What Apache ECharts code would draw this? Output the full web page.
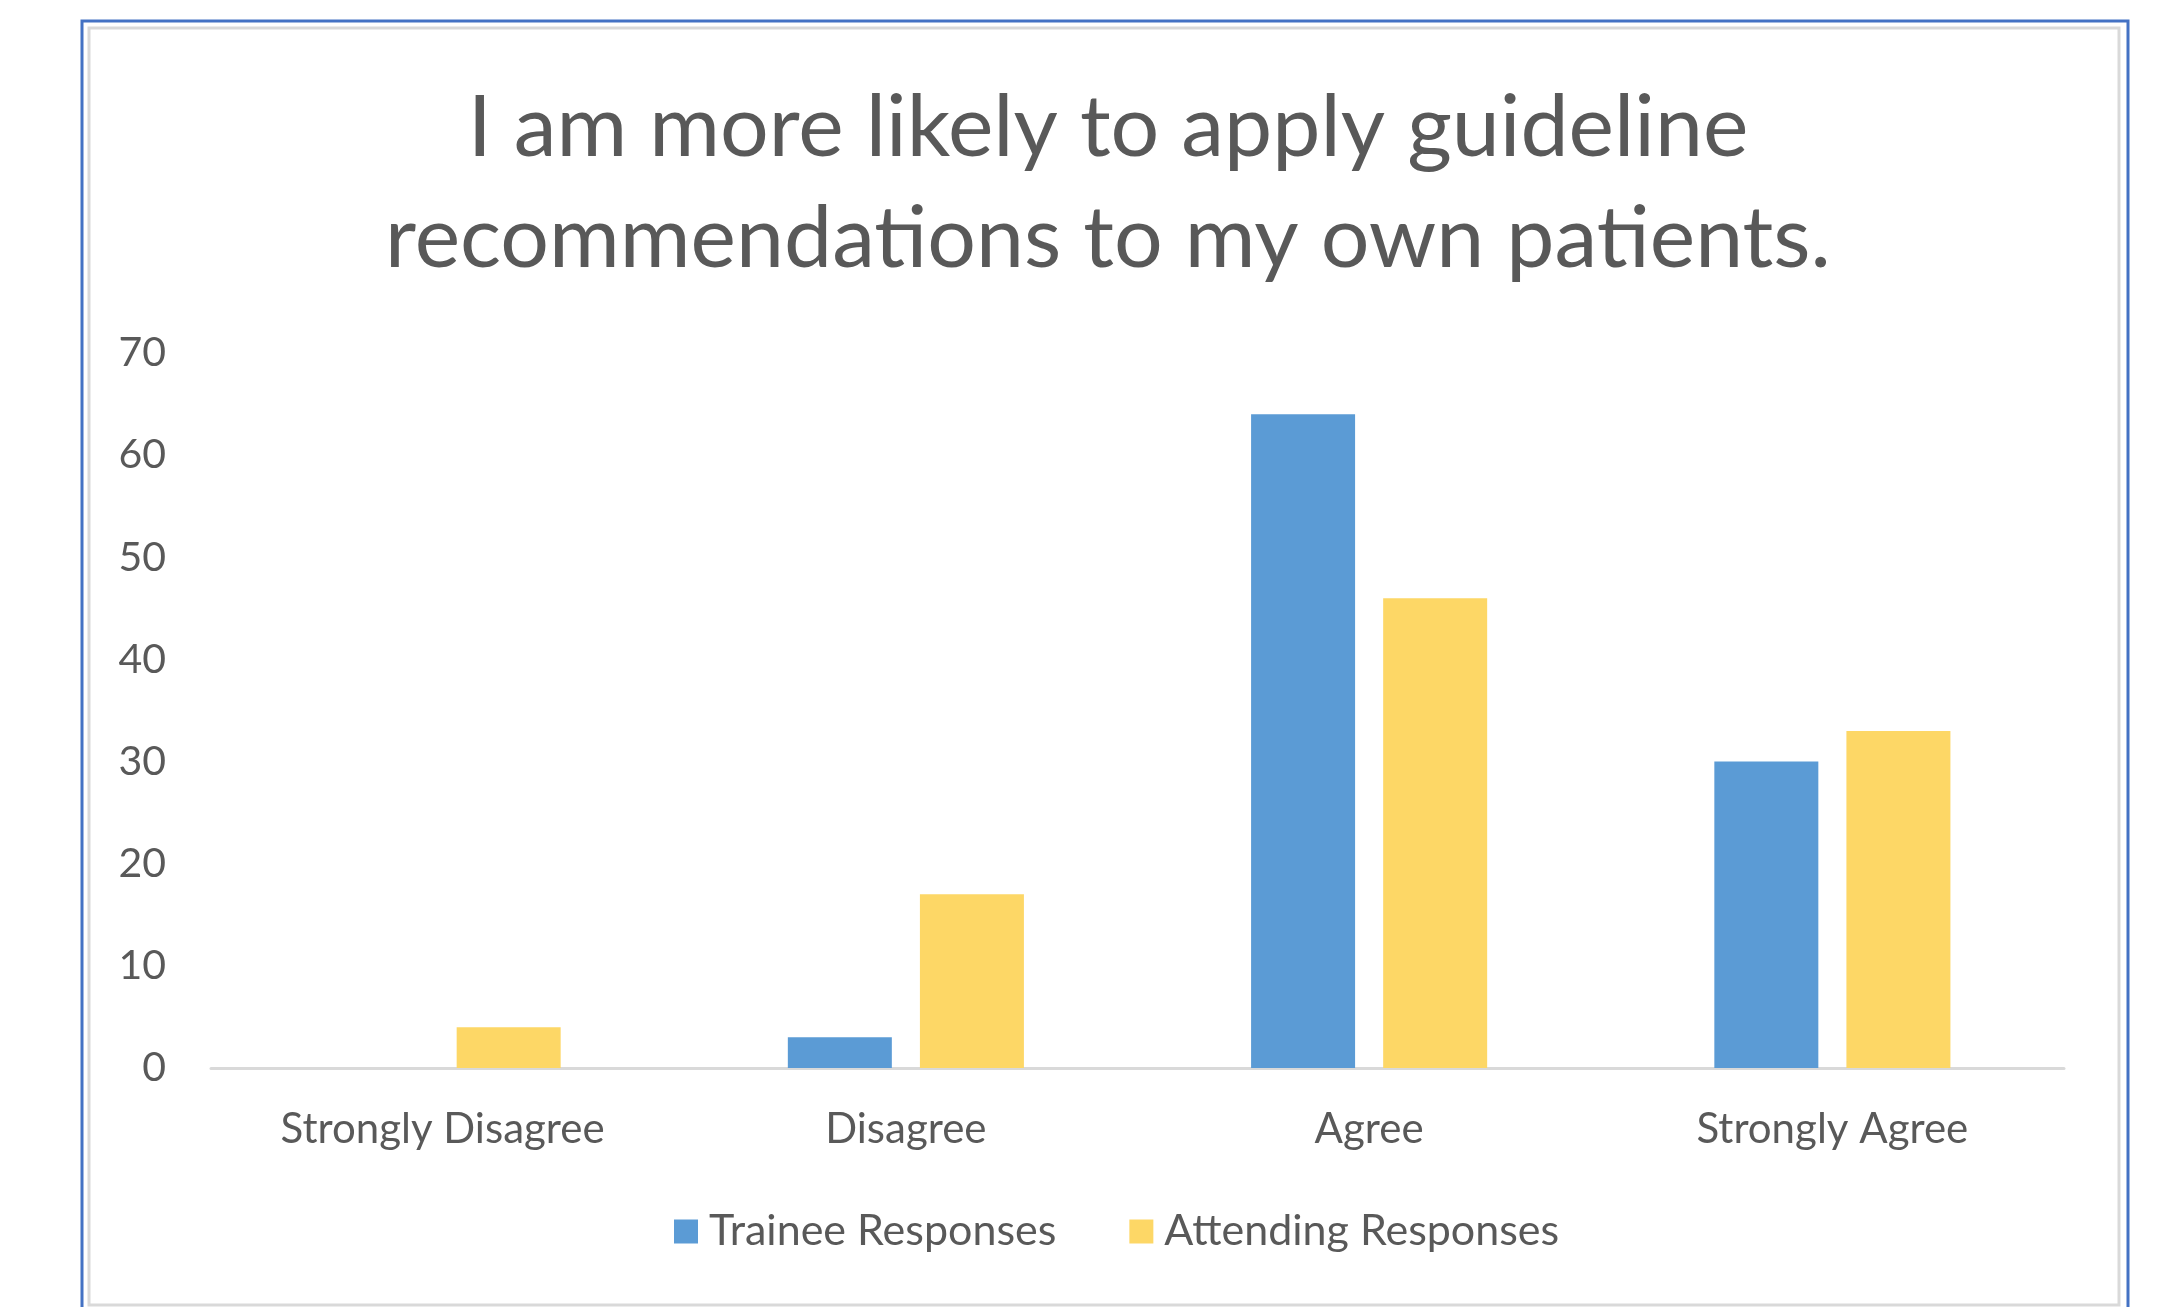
<!DOCTYPE html>
<html>
<head>
<meta charset="utf-8">
<script src="https://cdn.jsdelivr.net/npm/echarts@6/dist/echarts.min.js"></script>
<style>
html,body{margin:0;padding:0;background:#fff;}
#chart{width:2172px;height:1307px;}
</style>
</head>
<body>
<div id="chart"></div>
<script>
const titleText = "I am more likely to apply guideline\nrecommendations to my own patients.";
const categories = ["Strongly Disagree", "Disagree", "Agree", "Strongly Agree"];
const seriesNames = ["Trainee Responses", "Attending Responses"];
const traineeValues = [0, 3, 64, 30];
const attendingValues = [4, 17, 46, 33];
const yTicks = [0, 10, 20, 30, 40, 50, 60, 70];

const FONT = "Lato, Carlito, Calibri, sans-serif";
const chart = echarts.init(document.getElementById('chart'));
chart.setOption({
  backgroundColor: '#ffffff',
  animation: false,
  graphic: [
    { type: 'rect', shape: { x: 82, y: 21, width: 2046, height: 1300 }, style: { fill: 'none', stroke: '#4472c4', lineWidth: 3 }, silent: true },
    { type: 'rect', shape: { x: 89, y: 28, width: 2030, height: 1277 }, style: { fill: 'none', stroke: '#d9d9d9', lineWidth: 3 }, silent: true }
  ],
  title: {
    text: titleText,
    left: 1103,
    textAlign: 'center',
    top: 68,
    textStyle: { fontFamily: FONT, fontSize: 86, fontWeight: 'normal', color: '#595959', lineHeight: 111 }
  },
  legend: {
    data: seriesNames,
    left: 669,
    top: 1205,
    itemWidth: 24,
    itemHeight: 24,
    itemGap: 73,
    icon: 'rect',
    textStyle: { fontFamily: FONT, fontSize: 43, color: '#595959', padding: [0, 0, 0, 6] }
  },
  grid: { left: 211, right: 108, top: 353, bottom: 239, containLabel: false },
  xAxis: {
    type: 'category',
    data: categories,
    axisLine: { lineStyle: { color: '#d9d9d9', width: 3 } },
    axisTick: { show: false },
    axisLabel: { fontFamily: FONT, fontSize: 42, color: '#595959', margin: 38, lineHeight: 46 }
  },
  yAxis: {
    type: 'value',
    min: yTicks[0],
    max: yTicks[yTicks.length - 1],
    interval: yTicks[1] - yTicks[0],
    splitLine: { show: false },
    axisLine: { show: false },
    axisTick: { show: false },
    axisLabel: { fontFamily: FONT, fontSize: 41, color: '#595959', margin: 45 }
  },
  series: [
    { name: seriesNames[0], type: 'bar', data: traineeValues, barWidth: 104, barGap: '27%', itemStyle: { color: '#5b9bd5' } },
    { name: seriesNames[1], type: 'bar', data: attendingValues, barWidth: 104, itemStyle: { color: '#fdd766' } }
  ]
});
</script>
</body>
</html>
